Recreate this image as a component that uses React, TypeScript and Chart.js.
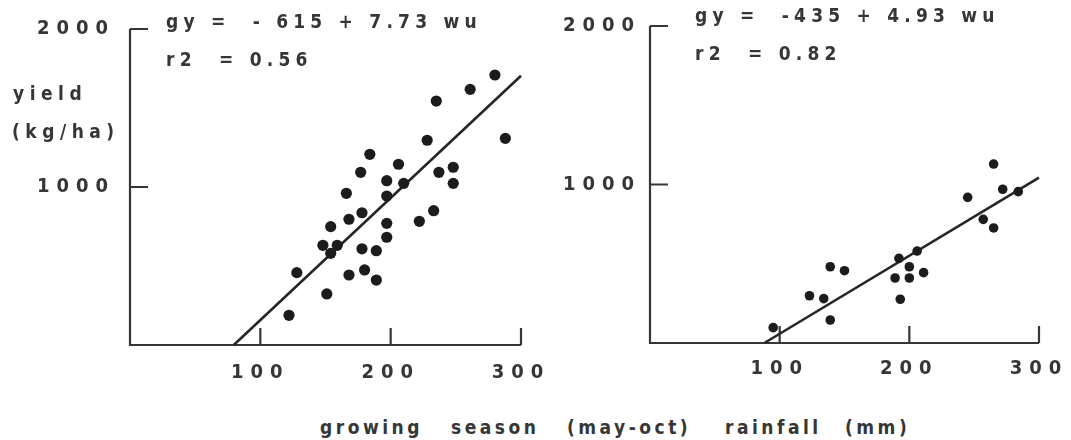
import React, { useEffect, useRef } from 'react';
import { Chart, registerables } from 'chart.js';

Chart.register(...registerables);

// ---- data ----
// left panel: growing season rainfall (mm) vs grain yield (kg/ha)
const leftRainfall = [280, 261, 235, 288, 228, 184, 206, 177, 237, 248, 248, 197, 210, 166, 197, 233, 222, 178, 168, 154, 197, 197, 148, 159, 154, 178, 189, 128, 168, 180, 189, 151, 122];
const leftYield = [1709, 1618, 1544, 1308, 1296, 1207, 1144, 1093, 1093, 1125, 1023, 1040, 1023, 960, 943, 850, 783, 837, 796, 749, 770, 682, 631, 631, 580, 609, 597, 458, 443, 475, 411, 323, 188];
// right panel
const rightRainfall = [265, 245, 272, 284, 257, 265, 206, 192, 200, 211, 189, 200, 193, 139, 150, 123, 134, 139, 95];
const rightYield = [1129, 919, 970, 955, 780, 726, 580, 534, 481, 444, 410, 410, 276, 481, 456, 298, 280, 145, 97];
// regression lines (end points from the printed equations)
const leftFitRainfall = [79.6, 300];
const leftFitYield = [0, 1704];
const rightFitRainfall = [88.2, 300];
const rightFitYield = [0, 1044];

const xTickValues = [100, 200, 300];
const yTickValues = [1000, 2000];
const xRange = [0, 300];
const yRange = [0, 2000];

const leftEquation = ['gy =  - 615 + 7.73 wu', 'r2  = 0.56'];
const rightEquation = ['gy =  -435 + 4.93 wu', 'r2  = 0.82'];
const yAxisTitle = ['yield', '(kg/ha)'];
const xAxisTitleWords = ['growing', 'season', '(may-oct)', 'rainfall', '(mm)'];

// ---- styles / layout ----
const FONT = "'DejaVu Sans Condensed', 'DejaVu Sans', sans-serif";
const INK = '#363636';
const DOT = '#1c1c1c';
const LINE = '#262626';

type PanelLayout = {
  pageLeft: number;
  width: number;
  height: number;
  yAxisWidth: number;
  padTop: number;
  padRight: number;
  padBottom: number;
  xAxisHeight: number;
  yLabelPad: number;
  xLabelPad: number;
  dotRadius: number;
  eqX: number;
  eqBaselines: number[];
  showYTitle: boolean;
};

const leftLayout: PanelLayout = {
  pageLeft: 0, width: 560, height: 400, yAxisWidth: 130, padTop: 29, padRight: 39, padBottom: 15, xAxisHeight: 40,
  yLabelPad: 15, xLabelPad: 16, dotRadius: 5.6, eqX: 166, eqBaselines: [28, 66], showYTitle: true,
};
const rightLayout: PanelLayout = {
  pageLeft: 540, width: 531, height: 400, yAxisWidth: 110, padTop: 26, padRight: 32, padBottom: 17, xAxisHeight: 40,
  yLabelPad: 9, xLabelPad: 14, dotRadius: 4.8, eqX: 695, eqBaselines: [22, 60], showYTitle: false,
};

function Panel(props: {
  xs: number[]; ys: number[]; fitX: number[]; fitY: number[]; equation: string[]; layout: PanelLayout;
}) {
  const ref = useRef<HTMLCanvasElement | null>(null);
  useEffect(() => {
    const canvas = ref.current;
    if (!canvas) return;
    const L = props.layout;
    const tickFont = { family: FONT, size: 20, weight: 'bold' as const };

    const oldAxes = {
      id: 'oldAxes',
      beforeDraw(chart: any) {
        chart.ctx.letterSpacing = '7px';
      },
      beforeDatasetsDraw(chart: any) {
        const { ctx } = chart;
        const x = chart.scales.x;
        const y = chart.scales.y;
        const x0 = x.getPixelForValue(xRange[0]);
        const x1 = x.getPixelForValue(xRange[1]);
        const y0 = y.getPixelForValue(yRange[0]);
        const y1 = y.getPixelForValue(yRange[1]);
        ctx.save();
        ctx.strokeStyle = INK;
        ctx.lineWidth = 2.2;
        ctx.lineJoin = 'miter';
        ctx.beginPath();
        ctx.moveTo(x0, y1);
        ctx.lineTo(x0, y0);
        ctx.lineTo(x1, y0);
        ctx.stroke();
        ctx.beginPath();
        yTickValues.forEach((v) => {
          const py = y.getPixelForValue(v);
          ctx.moveTo(x0, py);
          ctx.lineTo(x0 + 18, py);
        });
        xTickValues.forEach((v) => {
          const px = x.getPixelForValue(v);
          ctx.moveTo(px, y0);
          ctx.lineTo(px, y0 - 17);
        });
        ctx.stroke();
        ctx.restore();
      },
      afterDraw(chart: any) {
        const { ctx } = chart;
        ctx.save();
        ctx.fillStyle = INK;
        ctx.font = `bold 19px ${FONT}`;
        ctx.textAlign = 'left';
        ctx.textBaseline = 'alphabetic';
        ctx.letterSpacing = '5.2px';
        props.equation.forEach((line, i) => {
          ctx.fillText(line, L.eqX - L.pageLeft, L.eqBaselines[i]);
        });
        if (L.showYTitle) {
          ctx.letterSpacing = '5.5px';
          ctx.fillText(yAxisTitle[0], 13, 100);
          ctx.fillText(yAxisTitle[1], 12, 138);
        }
        ctx.restore();
      },
    };

    const chart = new Chart(canvas, {
      type: 'scatter',
      data: {
        datasets: [
          {
            data: props.xs.map((v, i) => ({ x: v, y: props.ys[i] })),
            backgroundColor: DOT,
            borderWidth: 0,
            pointRadius: L.dotRadius,
            showLine: false,
          },
          {
            data: props.fitX.map((v, i) => ({ x: v, y: props.fitY[i] })),
            borderColor: LINE,
            borderWidth: 2.6,
            pointRadius: 0,
            showLine: true,
            clip: false as any,
          },
        ],
      },
      options: {
        animation: false,
        responsive: false,
        events: [],
        layout: { padding: { top: L.padTop, right: L.padRight, bottom: L.padBottom, left: 0 } },
        plugins: { legend: { display: false }, tooltip: { enabled: false } },
        scales: {
          x: {
            type: 'linear',
            min: xRange[0],
            max: xRange[1],
            grid: { display: false, drawTicks: false },
            border: { display: false },
            afterBuildTicks: (scale: any) => {
              scale.ticks = xTickValues.map((value) => ({ value }));
            },
            afterFit: (scale: any) => {
              scale.height = L.xAxisHeight;
              scale.paddingLeft = 0;
              scale.paddingRight = 0;
            },
            ticks: {
              autoSkip: false,
              maxRotation: 0,
              padding: L.xLabelPad,
              color: INK,
              font: tickFont,
              callback: (v: any) => String(v),
            },
          },
          y: {
            type: 'linear',
            min: yRange[0],
            max: yRange[1],
            grid: { display: false, drawTicks: false },
            border: { display: false },
            afterBuildTicks: (scale: any) => {
              scale.ticks = yTickValues.map((value) => ({ value }));
            },
            afterFit: (scale: any) => {
              scale.width = L.yAxisWidth;
              scale.paddingTop = 0;
              scale.paddingBottom = 0;
            },
            ticks: {
              autoSkip: false,
              padding: L.yLabelPad,
              color: INK,
              font: tickFont,
              callback: (v: any) => String(v),
            },
          },
        },
      },
      plugins: [oldAxes],
    });
    return () => chart.destroy();
  }, []);
  const L = props.layout;
  return (
    <canvas
      ref={ref}
      width={L.width}
      height={L.height}
      style={{ position: 'absolute', left: L.pageLeft, top: 0, width: L.width, height: L.height }}
    />
  );
}

const xTitleLefts = [320, 451, 567, 725, 845];

export default function App() {
  return (
    <div style={{ position: 'absolute', left: 0, top: 0, width: 1071, height: 440, background: '#fff', overflow: 'hidden' }}>
      <Panel xs={leftRainfall} ys={leftYield} fitX={leftFitRainfall} fitY={leftFitYield} equation={leftEquation} layout={leftLayout} />
      <Panel xs={rightRainfall} ys={rightYield} fitX={rightFitRainfall} fitY={rightFitYield} equation={rightEquation} layout={rightLayout} />
      {xAxisTitleWords.map((w, i) => (
        <span
          key={w}
          style={{
            position: 'absolute',
            left: xTitleLefts[i],
            top: 418,
            font: `bold 19px ${FONT}`,
            lineHeight: '19px',
            letterSpacing: '3.5px',
            color: INK,
            whiteSpace: 'pre',
          }}
        >
          {w}
        </span>
      ))}
    </div>
  );
}
